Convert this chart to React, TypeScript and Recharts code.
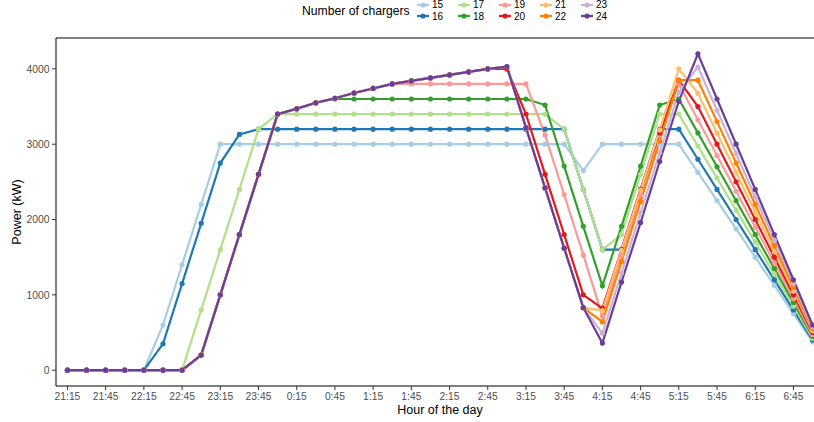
import React from 'react';
import { LineChart, Line, XAxis, YAxis, ReferenceLine } from 'recharts';

// time of day, one entry every 15 minutes
const times = [
    '21:15', '21:30', '21:45', '22:00', '22:15', '22:30', '22:45', '23:00', '23:15', '23:30',
    '23:45', '0:00', '0:15', '0:30', '0:45', '1:00', '1:15', '1:30', '1:45', '2:00',
    '2:15', '2:30', '2:45', '3:00', '3:15', '3:30', '3:45', '4:00', '4:15', '4:30',
    '4:45', '5:00', '5:15', '5:30', '5:45', '6:00', '6:15', '6:30', '6:45', '7:00',
];

const chargers = [15, 16, 17, 18, 19, 20, 21, 22, 23, 24];

const colors = [
    '#a6cee3', '#1f78b4', '#b2df8a', '#33a02c', '#fb9a99',
    '#e31a1c', '#fdbf6f', '#ff7f00', '#cab2d6', '#6a3d9a',
];

const s15 = [
    0, 0, 0, 0, 0, 600, 1400, 2200, 3000,
    3000, 3000, 3000, 3000, 3000, 3000, 3000, 3000, 3000, 3000, 3000, 3000, 3000, 3000, 3000, 3000, 3000, 3000,
    2650, 3000, 3000, 3000, 3000, 3000,
    2625, 2250, 1875, 1500, 1125, 750, 375,
];
const s16 = [
    0, 0, 0, 0, 0, 350, 1150, 1950, 2750, 3130,
    3200, 3200, 3200, 3200, 3200, 3200, 3200, 3200, 3200, 3200, 3200, 3200, 3200, 3200, 3200, 3200, 3200,
    2400, 1600, 1600, 2400, 3200, 3200,
    2800, 2400, 2000, 1600, 1200, 800, 400,
];
const s17 = [
    0, 0, 0, 0, 0, 0, 0, 800, 1600, 2400, 3200,
    3400, 3400, 3400, 3400, 3400, 3400, 3400, 3400, 3400, 3400, 3400, 3400, 3400, 3400, 3400,
    3200, 2400, 1600, 1800, 2600, 3400, 3400,
    2975, 2550, 2125, 1700, 1275, 850, 425,
];
const s18 = [
    0, 0, 0, 0, 0, 0, 0, 200, 1000, 1800, 2600, 3400, 3470, 3550,
    3600, 3600, 3600, 3600, 3600, 3600, 3600, 3600, 3600, 3600, 3600,
    3520, 2710, 1910, 1120, 1910, 2710, 3520, 3600,
    3150, 2700, 2250, 1800, 1350, 900, 450,
];
const s19 = [
    0, 0, 0, 0, 0, 0, 0, 200, 1000, 1800, 2600, 3400, 3470, 3550, 3610, 3680, 3740,
    3800, 3800, 3800, 3800, 3800, 3800, 3800, 3800,
    3120, 2330, 1530, 720, 1530, 2330, 3120, 3800,
    3325, 2850, 2375, 1900, 1425, 950, 475,
];
const s20 = [
    0, 0, 0, 0, 0, 0, 0, 200, 1000, 1800, 2600, 3400, 3470, 3550, 3610, 3680, 3740,
    3800, 3840, 3880, 3920, 3960, 4000, 4000,
    3400, 2600, 1800, 1000, 820, 1600, 2400, 3150, 3850,
    3500, 3000, 2500, 2000, 1500, 1000, 500,
];
const s21 = [
    0, 0, 0, 0, 0, 0, 0, 200, 1000, 1800, 2600, 3400, 3470, 3550, 3610, 3680, 3740,
    3800, 3840, 3880, 3920, 3960, 4000, 4030,
    3220, 2420, 1620, 830, 790, 1590, 2390, 3190, 4000,
    3675, 3150, 2625, 2100, 1575, 1050, 525,
];
const s22 = [
    0, 0, 0, 0, 0, 0, 0, 200, 1000, 1800, 2600, 3400, 3470, 3550, 3610, 3680, 3740,
    3800, 3840, 3880, 3920, 3960, 4000, 4030,
    3220, 2420, 1620, 830, 640, 1440, 2240, 3040, 3850,
    3850, 3300, 2750, 2200, 1650, 1100, 550,
];
const s23 = [
    0, 0, 0, 0, 0, 0, 0, 200, 1000, 1800, 2600, 3400, 3470, 3550, 3610, 3680, 3740,
    3800, 3840, 3880, 3920, 3960, 4000, 4030,
    3220, 2420, 1620, 830, 490, 1290, 2090, 2890, 3690,
    4025, 3450, 2875, 2300, 1725, 1150, 575,
];
const s24 = [
    0, 0, 0, 0, 0, 0, 0, 200, 1000, 1800, 2600, 3400, 3470, 3550, 3610, 3680, 3740,
    3800, 3840, 3880, 3920, 3960, 4000, 4030,
    3220, 2420, 1620, 830, 360, 1170, 1960, 2770, 3570,
    4200, 3600, 3000, 2400, 1800, 1200, 600,
];

const series = [s15, s16, s17, s18, s19, s20, s21, s22, s23, s24];

const yTicks = [0, 1000, 2000, 3000, 4000];
const yDomain = [-210, 4410];

const FONT = '"Liberation Sans", Arial, Helvetica, sans-serif';

const rows = times.map((label, i) => {
    const row: { [key: string]: string | number } = { t: i, label };
    chargers.forEach((n, k) => {
        row[`n${n}`] = series[k][i];
    });
    return row;
});

// every other time slot gets a label
const xTicks = times.map((_, i) => i).filter(i => i % 2 === 0);

function ChartLegend() {
    return (
        <div style={{ position: 'absolute', left: 302, top: -1, height: 24, display: 'flex', fontFamily: FONT }}>
            <div style={{ fontSize: 12.2, lineHeight: '24px', color: '#000', width: 115 }}>
                Number of chargers
            </div>
            <div style={{ display: 'grid', gridTemplateColumns: 'repeat(5, 41px)', gridTemplateRows: '11.5px 11.5px' }}>
                {chargers.map((n, k) => {
                    const col = Math.floor(k / 2);
                    const row = k % 2;
                    return (
                        <div
                            key={n}
                            style={{
                                gridColumn: col + 1,
                                gridRow: row + 1,
                                display: 'flex',
                                alignItems: 'center',
                                fontSize: 10,
                                color: '#000',
                                lineHeight: '11.5px',
                                height: 11.5,
                            }}
                        >
                            <svg width={12} height={8} style={{ marginRight: 3 }}>
                                <line x1={0} y1={4} x2={12} y2={4} stroke={colors[k]} strokeWidth={2.2} />
                                <circle cx={6} cy={4} r={2.6} fill={colors[k]} />
                            </svg>
                            <span>{n}</span>
                        </div>
                    );
                })}
            </div>
        </div>
    );
}

const YTitle = (props: any) => {
    const { viewBox } = props;
    const cx = viewBox.x + 17;
    const cy = viewBox.y + viewBox.height / 2;
    return (
        <text
            x={cx}
            y={cy}
            transform={`rotate(-90, ${cx}, ${cy})`}
            textAnchor="middle"
            dominantBaseline="central"
            fontSize={12.5}
            fontFamily={FONT}
            fill="#000"
        >
            Power (kW)
        </text>
    );
};

export default function App() {
    return (
        <div
            style={{
                position: 'absolute',
                left: 0,
                top: 0,
                width: 814,
                height: 422,
                overflow: 'hidden',
                background: '#fff',
            }}
        >
            <ChartLegend />
            <LineChart width={840} height={422} data={rows} margin={{ top: 38, right: 16, bottom: 0, left: 0 }}>
                <XAxis
                    dataKey="t"
                    type="number"
                    domain={[-0.6, times.length - 0.4]}
                    ticks={xTicks}
                    tickFormatter={(i: number) => times[i]}
                    interval={0}
                    height={36}
                    tickSize={4}
                    tickMargin={3}
                    stroke="#000"
                    tick={{ fill: '#4d4d4d', fontSize: 10.3, fontFamily: FONT }}
                    tickLine={{ stroke: '#333' }}
                    label={{
                        value: 'Hour of the day',
                        position: 'insideBottom',
                        offset: 8,
                        fill: '#000',
                        fontSize: 12.5,
                        fontFamily: FONT,
                    }}
                />
                <YAxis
                    type="number"
                    domain={yDomain}
                    ticks={yTicks}
                    allowDataOverflow
                    width={56}
                    tickSize={4}
                    tickMargin={2.5}
                    stroke="#000"
                    tick={{ fill: '#4d4d4d', fontSize: 10.3, fontFamily: FONT }}
                    tickLine={{ stroke: '#333' }}
                    label={<YTitle />}
                />
                <ReferenceLine y={yDomain[1]} stroke="#000" strokeWidth={1} />
                {chargers.map((n, k) => (
                    <Line
                        key={n}
                        type="linear"
                        dataKey={`n${n}`}
                        stroke={colors[k]}
                        strokeWidth={2.2}
                        dot={{ r: 2.6, fill: colors[k], stroke: 'none', strokeWidth: 0 }}
                        activeDot={false}
                        isAnimationActive={false}
                    />
                ))}
            </LineChart>
        </div>
    );
}
